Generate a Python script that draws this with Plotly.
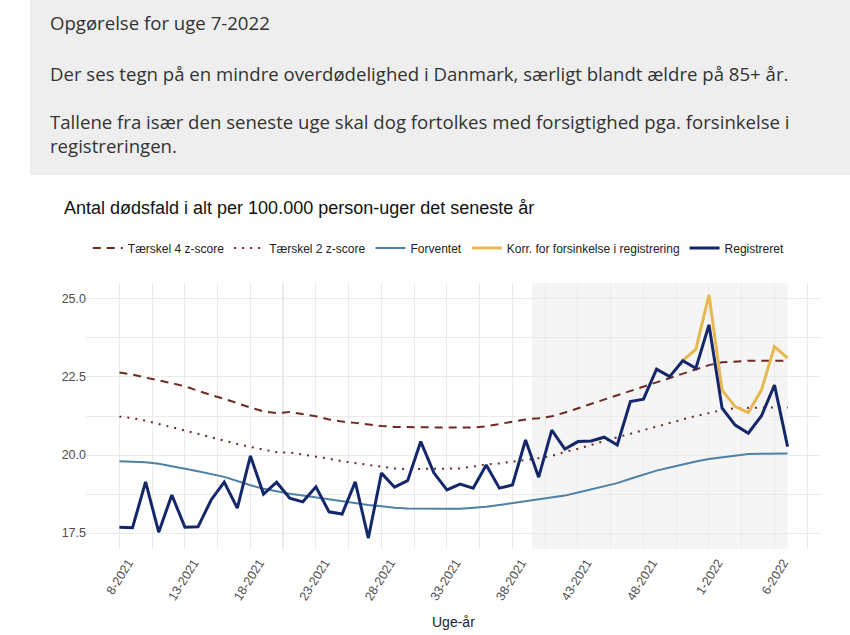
import plotly.graph_objects as go

# === DATA ===
weeks = [
    "8-2021", "9-2021", "10-2021", "11-2021", "12-2021", "13-2021", "14-2021", "15-2021",
    "16-2021", "17-2021", "18-2021", "19-2021", "20-2021", "21-2021", "22-2021", "23-2021",
    "24-2021", "25-2021", "26-2021", "27-2021", "28-2021", "29-2021", "30-2021", "31-2021",
    "32-2021", "33-2021", "34-2021", "35-2021", "36-2021", "37-2021", "38-2021", "39-2021",
    "40-2021", "41-2021", "42-2021", "43-2021", "44-2021", "45-2021", "46-2021", "47-2021",
    "48-2021", "49-2021", "50-2021", "51-2021", "52-2021", "1-2022", "2-2022", "3-2022",
    "4-2022", "5-2022", "6-2022", "7-2022",
]
tick_weeks = ["8-2021", "13-2021", "18-2021", "23-2021", "28-2021", "33-2021",
              "38-2021", "43-2021", "48-2021", "1-2022", "6-2022"]

registreret = [
    17.69, 17.67, 19.14, 17.53, 18.72, 17.69, 17.70, 18.56, 19.13, 18.30,
    19.97, 18.75, 19.13, 18.62, 18.50, 18.98, 18.18, 18.11, 19.14, 17.34,
    19.42, 18.97, 19.18, 20.43, 19.43, 18.88, 19.07, 18.94, 19.68, 18.94,
    19.04, 20.48, 19.29, 20.80, 20.19, 20.43, 20.45, 20.57, 20.32, 21.71,
    21.79, 22.75, 22.51, 23.02, 22.78, 24.17, 21.50, 20.96, 20.70, 21.25,
    22.24, 20.27,
]
korr = [None] * 43 + [23.02, 23.39, 25.13, 22.08, 21.55, 21.36, 22.08, 23.47, 23.10]

forventet = [
    19.80, 19.79, 19.77, 19.72, 19.65, 19.56, 19.48, 19.40, 19.30, 19.17,
    19.03, 18.92, 18.83, 18.76, 18.70, 18.64, 18.57, 18.50, 18.45, 18.40,
    18.36, 18.31, 18.29, 18.28, 18.28, 18.28, 18.28, 18.30, 18.34, 18.40,
    18.46, 18.52, 18.57, 18.62, 18.70, 18.80, 18.90, 19.00, 19.10, 19.24,
    19.38, 19.50, 19.60, 19.70, 19.79, 19.87, 19.93, 19.99, 20.03, 20.04,
    20.05, 20.05,
]
taerskel4 = [
    22.64, 22.58, 22.48, 22.40, 22.30, 22.20, 22.05, 21.92, 21.80, 21.65,
    21.52, 21.40, 21.34, 21.38, 21.32, 21.24, 21.14, 21.07, 21.03, 20.97,
    20.93, 20.90, 20.89, 20.88, 20.88, 20.88, 20.88, 20.88, 20.92, 21.00,
    21.06, 21.14, 21.18, 21.24, 21.36, 21.50, 21.63, 21.77, 21.90, 22.04,
    22.18, 22.32, 22.47, 22.62, 22.76, 22.88, 22.97, 23.00, 23.02, 23.02,
    23.02, 23.02,
]
taerskel2 = [
    21.23, 21.18, 21.10, 21.00, 20.90, 20.80, 20.68, 20.57, 20.45, 20.35,
    20.26, 20.17, 20.09, 20.08, 20.02, 19.96, 19.88, 19.80, 19.74, 19.68,
    19.61, 19.57, 19.55, 19.55, 19.55, 19.56, 19.57, 19.63, 19.70, 19.73,
    19.78, 19.85, 19.90, 19.97, 20.10, 20.20, 20.33, 20.46, 20.57, 20.68,
    20.80, 20.92, 21.03, 21.14, 21.25, 21.35, 21.44, 21.50, 21.52, 21.52,
    21.52, 21.52,
]

intro_lines = [
    "Opgørelse for uge 7-2022",
    "Der ses tegn på en mindre overdødelighed i Danmark, særligt blandt ældre på 85+ år.",
    "Tallene fra især den seneste uge skal dog fortolkes med forsigtighed pga. forsinkelse i",
    "registreringen.",
]

# === LAYOUT HELPERS (pixel -> paper) ===
W, H = 850, 635
L, R, T, B = 86, 821, 283, 549


def px(p):
    return (p - L) / (R - L)


def py(p):
    return (B - p) / (B - T)


x = list(range(len(weeks)))
darkred = "#6e2a22"

fig = go.Figure()
fig.add_trace(go.Scatter(x=x, y=taerskel4, mode="lines", name="Tærskel 4 z-score",
                         line=dict(color=darkred, width=2, dash="8px,6px")))
fig.add_trace(go.Scatter(x=x, y=taerskel2, mode="lines", name="Tærskel 2 z-score",
                         line=dict(color=darkred, width=2, dash="2px,6px")))
fig.add_trace(go.Scatter(x=x, y=forventet, mode="lines", name="Forventet",
                         line=dict(color="#4f80a6", width=2)))
fig.add_trace(go.Scatter(x=x, y=korr, mode="lines", name="Korr. for forsinkelse i registrering",
                         line=dict(color="#e8b850", width=3)))
fig.add_trace(go.Scatter(x=x, y=registreret, mode="lines", name="Registreret",
                         line=dict(color="#14276b", width=3)))

# grå boks øverst
fig.add_shape(type="rect", xref="paper", yref="paper",
              x0=px(30), x1=px(851), y0=py(175), y1=py(-2),
              fillcolor="#eeeeee", line_width=0, layer="below")
# skraveret periode
fig.add_shape(type="rect", xref="x", yref="paper",
              x0=weeks.index("39-2021") + 0.5, x1=weeks.index("7-2022"), y0=0, y1=1,
              fillcolor="#f5f5f5", line_width=0, layer="below")
fig.add_shape(type="line", xref="x", yref="paper",
              x0=weeks.index("20-2021") + 0.5, x1=weeks.index("20-2021") + 0.5, y0=0, y1=1,
              line=dict(color="#dadada", width=1.6), layer="below")

intro_y = [22, 74, 122, 146]
for txt, yy in zip(intro_lines, intro_y):
    fig.add_annotation(text=txt, xref="paper", yref="paper", x=px(48), y=py(yy),
                       xanchor="left", yanchor="middle", showarrow=False,
                       font=dict(family="Open Sans", size=18.6, color="#333333"))

fig.add_annotation(text="Antal dødsfald i alt per 100.000 person-uger det seneste år",
                   xref="paper", yref="paper", x=px(62), y=py(208),
                   xanchor="left", yanchor="middle", showarrow=False,
                   font=dict(family="Liberation Sans", size=18, color="#111111"))
fig.add_annotation(text="Uge-år", xref="paper", yref="paper", x=0.5, y=py(622),
                   xanchor="center", yanchor="middle", showarrow=False,
                   font=dict(family="Liberation Sans", size=14, color="#222222"))

fig.update_layout(
    width=W, height=H,
    margin=dict(l=L, r=W - R, t=T, b=H - B),
    paper_bgcolor="white", plot_bgcolor="white",
    font=dict(family="Liberation Sans", color="#4d4d4d"),
    showlegend=True,
    legend=dict(orientation="h", x=0.48, xanchor="center", y=py(248), yanchor="middle",
                font=dict(size=12, color="#222222"), itemwidth=30,
                traceorder="normal"),
    xaxis=dict(
        range=[-2.55, len(weeks) - 1 + 2.55],
        tickmode="array",
        tickvals=[weeks.index(w) for w in tick_weeks],
        ticktext=tick_weeks,
        tickangle=-58,
        tickfont=dict(size=12.5, color="#4d4d4d"),
        ticklabelshift=9, ticklabelstandoff=3,
        showgrid=True, gridcolor="#ebebeb", gridwidth=1,
        minor=dict(tickvals=[weeks.index(w) - 2.5 for w in tick_weeks] + [weeks.index("6-2022") + 2.5],
                   showgrid=True, gridcolor="#ebebeb", gridwidth=0.8),
        zeroline=False, showline=False, ticks="",
    ),
    yaxis=dict(
        range=[16.99, 25.51],
        tickvals=[17.5, 20.0, 22.5, 25.0],
        ticktext=["17.5", "20.0", "22.5", "25.0"],
        tickfont=dict(size=12.5, color="#4d4d4d"),
        ticklabelstandoff=-1,
        showgrid=True, gridcolor="#ebebeb", gridwidth=1,
        minor=dict(tickvals=[18.75, 21.25, 23.75], showgrid=True,
                   gridcolor="#ebebeb", gridwidth=0.8),
        zeroline=False, showline=False, ticks="",
    ),
)

fig.write_html("out.html", config={"displayModeBar": False},
               post_script="document.body.style.margin='0px';")
